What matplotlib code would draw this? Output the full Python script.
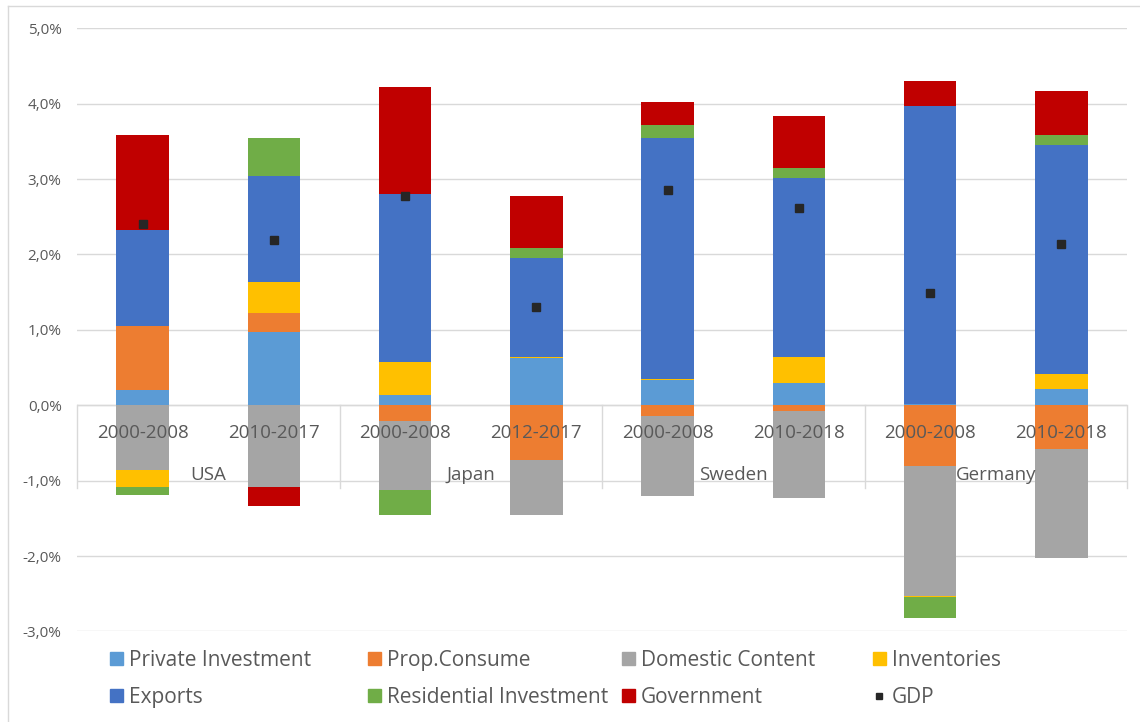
import matplotlib
matplotlib.use('Agg')
import matplotlib.pyplot as plt
import numpy as np
from matplotlib.lines import Line2D
from matplotlib.patches import Patch

plt.rcParams['font.family'] = ['Open Sans', 'DejaVu Sans']

countries = ['USA', 'Japan', 'Sweden', 'Germany']
periods = ['2000-2008', '2010-2017', '2000-2008', '2012-2017',
           '2000-2008', '2010-2018', '2000-2008', '2010-2018']

private_inv = [0.20, 0.97, 0.14, 0.63, 0.34, 0.29, 0.02, 0.22]
prop_consume = [0.85, 0.25, -0.21, -0.72, -0.14, -0.08, -0.80, -0.58]
domestic = [-0.86, -1.09, -0.92, -0.74, -1.06, -1.15, -1.73, -1.44]
inventories = [-0.22, 0.41, 0.44, 0.01, 0.01, 0.35, -0.02, 0.19]
exports = [1.28, 1.41, 2.22, 1.31, 3.19, 2.37, 3.95, 3.04]
residential = [-0.11, 0.50, -0.32, 0.14, 0.18, 0.14, -0.27, 0.14]
government = [1.25, -0.25, 1.42, 0.68, 0.30, 0.69, 0.33, 0.58]
gdp = [2.40, 2.19, 2.77, 1.30, 2.85, 2.62, 1.49, 2.14]

series = [
    ('Private Investment', private_inv, '#5B9BD5'),
    ('Prop.Consume', prop_consume, '#ED7D31'),
    ('Domestic Content', domestic, '#A5A5A5'),
    ('Inventories', inventories, '#FFC000'),
    ('Exports', exports, '#4472C4'),
    ('Residential Investment', residential, '#70AD47'),
    ('Government', government, '#C00000'),
]

fig = plt.figure(figsize=(11.4, 7.22), dpi=100)
ax = fig.add_axes([77 / 1140, 1 - 631.4 / 722, 1050 / 1140, 603.1 / 722])

x = np.arange(len(periods))
pos_bottom = np.zeros(len(x))
neg_bottom = np.zeros(len(x))
handles = {}
for name, vals, color in series:
    v = np.array(vals)
    bottom = np.where(v >= 0, pos_bottom, neg_bottom)
    ax.bar(x, v, 0.4, bottom=bottom, color=color, zorder=2)
    pos_bottom += np.where(v >= 0, v, 0)
    neg_bottom += np.where(v < 0, v, 0)
    handles[name] = Patch(color=color, label=name)

ax.plot(x, gdp, 's', color='#262626', ms=6, zorder=3)
handles['GDP'] = Line2D([], [], marker='s', color='#262626', ls='none', ms=5, label='GDP')

ax.set_xlim(-0.5, len(x) - 0.5)
ax.set_ylim(-3, 5)
ax.set_yticks(np.arange(-3, 6, 1))
ax.set_yticklabels([('%.1f%%' % t).replace('.', ',') for t in np.arange(-3, 6, 1)])
ax.tick_params(axis='y', length=0, pad=11, labelsize=11, labelcolor='#595959')
ax.set_xticks([])
ax.grid(axis='y', color='#D9D9D9', lw=1, zorder=0)
for s in ax.spines.values():
    s.set_visible(False)
ax.axhline(0, color='#D9D9D9', lw=1, zorder=1)

# multi level category axis
for i, p in enumerate(periods):
    ax.text(i, -0.37, p, ha='center', va='center', fontsize=13.5, color='#595959', zorder=4)
for k, c in enumerate(countries):
    ax.text(2 * k + 0.5, -0.93, c, ha='center', va='center', fontsize=13.5, color='#595959', zorder=4)
for k in range(len(countries) + 1):
    ax.plot([2 * k - 0.5, 2 * k - 0.5], [0, -1.1], color='#D9D9D9', lw=1, clip_on=False, zorder=1)

# legend, one block per column
cols = [['Private Investment', 'Exports'], ['Prop.Consume', 'Residential Investment'],
        ['Domestic Content', 'Government'], ['Inventories', 'GDP']]
col_x = [110, 368, 622, 873]
for names, cx in zip(cols, col_x):
    fig.legend(handles=[handles[n] for n in names], loc='upper left',
               bbox_to_anchor=(cx / 1140, 1 - 650 / 722), frameon=False,
               fontsize=15, labelcolor='#595959', handlelength=0.6, handleheight=0.6,
               handletextpad=0.3, labelspacing=0.75, borderpad=0, borderaxespad=0)

# chart area border (top and left only visible)
fig.add_artist(Line2D([8 / 1140, 1], [1 - 6 / 722, 1 - 6 / 722], color='#D9D9D9', lw=1))
fig.add_artist(Line2D([8 / 1140, 8 / 1140], [0, 1 - 6 / 722], color='#D9D9D9', lw=1))

fig.savefig('out.png', dpi=100)
